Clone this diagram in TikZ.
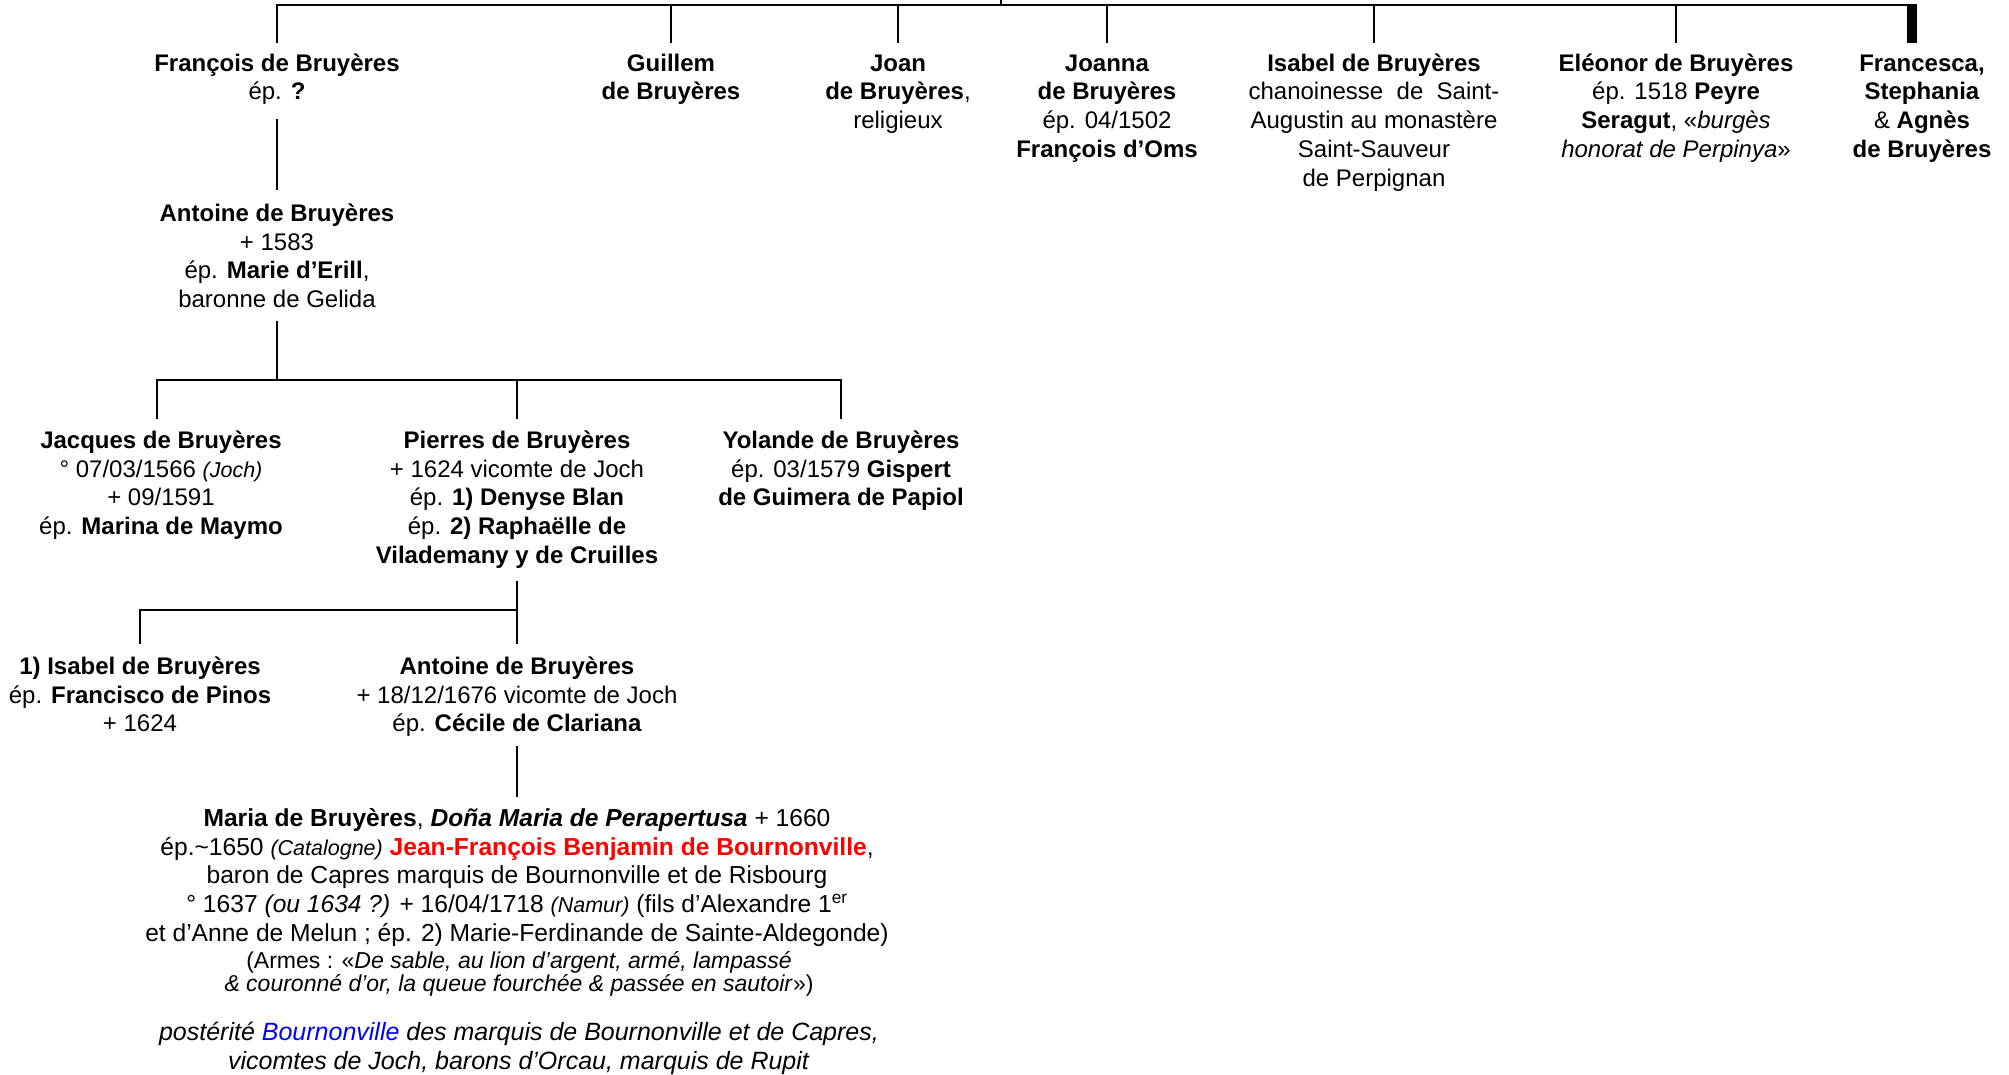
\documentclass[tikz,border=0pt]{standalone}
\usepackage{fontspec}
\setmainfont{Liberation Sans}
\usetikzlibrary{calc}
\newcommand\topstr{\rule{0pt}{23pt}}
\newcommand\botstr{\rule[-7pt]{0pt}{7pt}}
\newcommand\smit[1]{{\fontsize{21.5}{23}\selectfont\itshape #1}}
\begin{document}
\begin{tikzpicture}[x=1pt,y=-1pt,
  person/.style={anchor=north, align=center, inner sep=0pt, font=\fontsize{24}{28.8}\selectfont},
  bigperson/.style={person, font=\fontsize{24.6}{28.8}\selectfont},
  armestxt/.style={anchor=north, align=center, inner sep=0pt, font=\fontsize{23}{23}\selectfont},
  link/.style={line width=2.4pt},
]
\useasboundingbox (0,0) rectangle (2009,1075);

% generation 1
\node[person] (francois) at (277,48) {\topstr\textbf{François de Bruyères}\\ép. \textbf{?}\botstr};
\node[person] (guillem) at (671,48) {\topstr\textbf{Guillem}\\\textbf{de Bruyères}\botstr};
\node[person] (joan) at (898,48) {\topstr\textbf{Joan}\\\textbf{de Bruyères},\\religieux\botstr};
\node[person] (joanna) at (1107,48) {\topstr\textbf{Joanna}\\\textbf{de Bruyères}\\ép. 04/1502\\\textbf{François d’Oms}\botstr};
\node[person] (isabel) at (1374,48) {\topstr\textbf{Isabel de Bruyères}\\chanoinesse\ \ de\ \ Saint-\\Augustin au monastère\\Saint-Sauveur\\de Perpignan\botstr};
\node[person] (eleonor) at (1676,48) {\topstr\textbf{Eléonor de Bruyères}\\ép. 1518 \textbf{Peyre}\\\textbf{Seragut}, «\textit{burgès}\\\textit{honorat de Perpinya}»\botstr};
\node[person] (francesca) at (1922,48) {\topstr\textbf{Francesca,}\\\textbf{Stephania}\\\& \textbf{Agnès}\\\textbf{de Bruyères}\botstr};

% generation 2
\node[person] (antoine) at (277,198) {\topstr\textbf{Antoine de Bruyères}\\+ 1583\\ép. \textbf{Marie d’Erill},\\baronne de Gelida\botstr};

% generation 3
\node[person] (jacques) at (161,425) {\topstr\textbf{Jacques de Bruyères}\\° 07/03/1566 \smit{(Joch)}\\+ 09/1591\\ép. \textbf{Marina de Maymo}\botstr};
\node[person] (pierres) at (517,425) {\topstr\textbf{Pierres de Bruyères}\\+ 1624 vicomte de Joch\\ép. \textbf{1) Denyse Blan}\\ép. \textbf{2) Raphaëlle de}\\\textbf{Vilademany y de Cruilles}\botstr};
\node[person] (yolande) at (841,425) {\topstr\textbf{Yolande de Bruyères}\\ép. 03/1579 \textbf{Gispert}\\\textbf{de Guimera de Papiol}\botstr};

% generation 4
\node[person] (isabelb) at (140,651) {\topstr\textbf{1) Isabel de Bruyères}\\ép. \textbf{Francisco de Pinos}\\+ 1624\botstr};
\node[person] (antoineb) at (517,651) {\topstr\textbf{Antoine de Bruyères}\\+ 18/12/1676 vicomte de Joch\\ép. \textbf{Cécile de Clariana}\botstr};

% generation 5
\node[bigperson] (maria) at (517,803) {\topstr\textbf{Maria de Bruyères}, \textbf{\textit{Doña Maria de Perapertusa}} + 1660\\ép.\textasciitilde1650 \smit{(Catalogne)} \textcolor{red}{\textbf{Jean-François Benjamin de Bournonville}},\\baron de Capres marquis de Bournonville et de Risbourg\\° 1637 \textit{(ou 1634 ?)} + 16/04/1718 \smit{(Namur)} (fils d’Alexandre 1\textsuperscript{er}\\et d’Anne de Melun ; ép. 2) Marie-Ferdinande de Sainte-Aldegonde)\botstr};
\node[armestxt] (armes) at (519,945) {\topstr(Armes : «\textit{De sable, au lion d’argent, armé, lampassé}\\\textit{\& couronné d’or, la queue fourchée \& passée en sautoir}»)};
\node[person, font=\fontsize{25}{28.8}\selectfont] (posterite) at (519,1017) {\topstr\textit{postérité \textcolor{blue}{Bournonville} des marquis de Bournonville et de Capres,}\\\textit{vicomtes de Joch, barons d’Orcau, marquis de Rupit}};

% connectors
\coordinate (b1) at (0,5);
\coordinate (b2) at (0,380);
\coordinate (b3) at (0,610);
\coordinate (parent) at (1001,-3);

\draw[link] (parent) -- (parent |- b1);
\draw[link] ([yshift=5pt]francois.north) |- ($(francesca.north |- b1)+(-5,0)$);
\foreach \n in {guillem,joan,joanna,isabel,eleonor}
  \draw[link] (\n.north |- b1) -- ([yshift=5pt]\n.north);
\fill ($(francesca.north |- b1)+(-15,-1.2)$) rectangle ($(francesca.north)+(-5,-5)$);

\draw[link] ([yshift=-12pt]francois.south) -- ([yshift=8pt]antoine.north);

\draw[link] ([yshift=-6pt]antoine.south) -- (antoine.south |- b2);
\draw[link] ([yshift=6pt]jacques.north -| 157,0) |- (yolande.north |- b2) -- ([yshift=6pt]yolande.north);
\draw[link] (pierres.north |- b2) -- ([yshift=6pt]pierres.north);

\draw[link] ([yshift=-10pt]pierres.south) -- (pierres.south |- b3) -| ([yshift=7pt]isabelb.north);
\draw[link] (pierres.south |- b3) -- ([yshift=7pt]antoineb.north);

\draw[link] ([yshift=-7pt]antoineb.south) -- ([yshift=6pt]maria.north);
\end{tikzpicture}
\end{document}
